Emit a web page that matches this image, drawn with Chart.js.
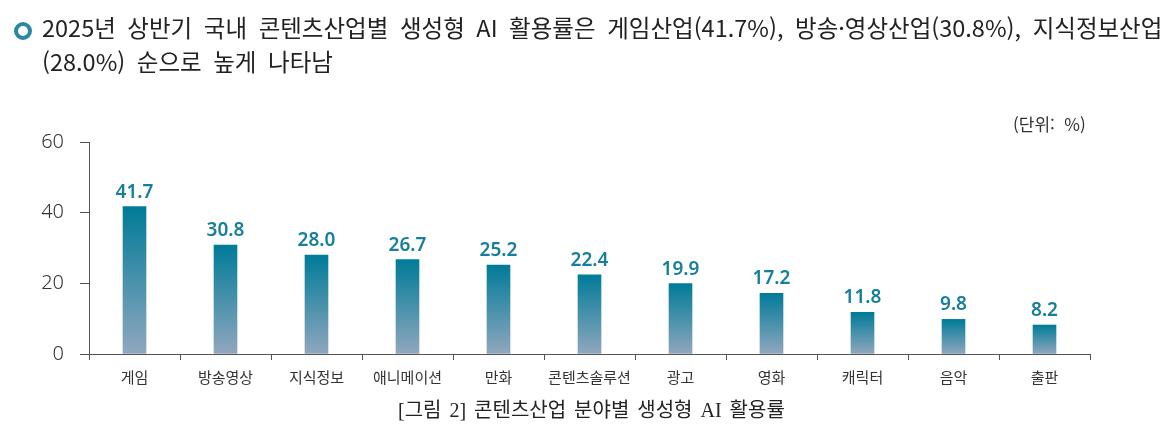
<!DOCTYPE html>
<html lang="ko">
<head>
<meta charset="utf-8">
<script src="https://cdn.jsdelivr.net/npm/chart.js@4.4.1/dist/chart.umd.min.js"></script>
<style>
  html, body { margin: 0; padding: 0; background: #fff; }
  #wrap { position: relative; width: 1174px; height: 441px; overflow: hidden; font-family: "Noto Sans CJK KR", "Noto Sans", sans-serif; }
  #c1 { position: absolute; left: 0; top: 0; }
  .title { position: absolute; left: 42px; font-size: 23.5px; color: #222; white-space: nowrap; word-spacing: 5px; }
  .bullet { position: absolute; left: 14px; top: 22px; width: 10px; height: 10px; border: 4px solid #2b87a6; border-radius: 50%; }
  .unit { position: absolute; left: 1013px; top: 111px; font-size: 17px; color: #333; }
  .caption { position: absolute; left: 398px; top: 394px; font-size: 20px; color: #222; font-family: "Liberation Serif", "Noto Sans CJK KR", serif; word-spacing: 3px; }
</style>
</head>
<body>
<div id="wrap">
  <canvas id="c1" width="1174" height="441"></canvas>
  <div class="bullet"></div>
  <div class="title" style="top:10px">2025년 상반기 국내 콘텐츠산업별 생성형 AI 활용률은 게임산업(41.7%), 방송·영상산업(30.8%), 지식정보산업</div>
  <div class="title" style="top:44px">(28.0%) 순으로 높게 나타남</div>
  <div class="unit">(단위: &nbsp;%)</div>
  <div class="caption">[그림 2] 콘텐츠산업 분야별 생성형 AI 활용률</div>
</div>
<script>
var categories = ["게임", "방송영상", "지식정보", "애니메이션", "만화", "콘텐츠솔루션", "광고", "영화", "캐릭터", "음악", "출판"];
var rates = [41.7, 30.8, 28.0, 26.7, 25.2, 22.4, 19.9, 17.2, 11.8, 9.8, 8.2];
var yTicks = [0, 20, 40, 60];

// bar gradient, from the top of each bar down to the axis
function barFill(context) {
  var chart = context.chart;
  if (!chart.chartArea) return "#3f8aa5";
  var y = chart.scales.y;
  var top = y.getPixelForValue(context.raw);
  var bottom = y.getPixelForValue(0);
  var g = chart.ctx.createLinearGradient(0, top, 0, bottom);
  g.addColorStop(0, "#007b98");
  g.addColorStop(1, "#90a7be");
  return g;
}

// value above each bar
var valueLabels = {
  id: "valueLabels",
  afterDatasetsDraw: function(chart) {
    var ctx = chart.ctx;
    var meta = chart.getDatasetMeta(0);
    ctx.save();
    ctx.font = "600 19px 'Noto Sans', sans-serif";
    ctx.fillStyle = "#167f9c";
    ctx.textAlign = "center";
    ctx.textBaseline = "bottom";
    meta.data.forEach(function(bar, i) {
      ctx.fillText(rates[i].toFixed(1), bar.x, bar.y - 5);
    });
    ctx.restore();
  }
};

new Chart(document.getElementById("c1"), {
  type: "bar",
  data: {
    labels: categories,
    datasets: [{
      data: rates,
      backgroundColor: barFill,
      barThickness: 23
    }]
  },
  plugins: [valueLabels],
  options: {
    responsive: false,
    animation: false,
    layout: { padding: { left: 0, top: 142, right: 84, bottom: 47 } },
    plugins: { legend: { display: false }, tooltip: { enabled: false } },
    scales: {
      x: {
        afterFit: function(scale) { scale.height = 40; },
        border: { color: "#555", width: 1 },
        grid: { offset: true, drawOnChartArea: false, tickLength: 6, color: "#555" },
        ticks: { color: "#333", padding: 8, font: { family: "'Noto Sans CJK KR', sans-serif", size: 15 } }
      },
      y: {
        min: 0,
        max: 60,
        afterFit: function(scale) { scale.width = 89; },
        afterBuildTicks: function(scale) { scale.ticks = yTicks.map(function(v) { return { value: v }; }); },
        border: { color: "#555", width: 1 },
        grid: { drawOnChartArea: false, tickLength: 9, color: "#555" },
        ticks: { color: "#333", padding: 16, font: { family: "'Noto Sans', sans-serif", size: 20, weight: 300 } }
      }
    }
  }
});
</script>
</body>
</html>
